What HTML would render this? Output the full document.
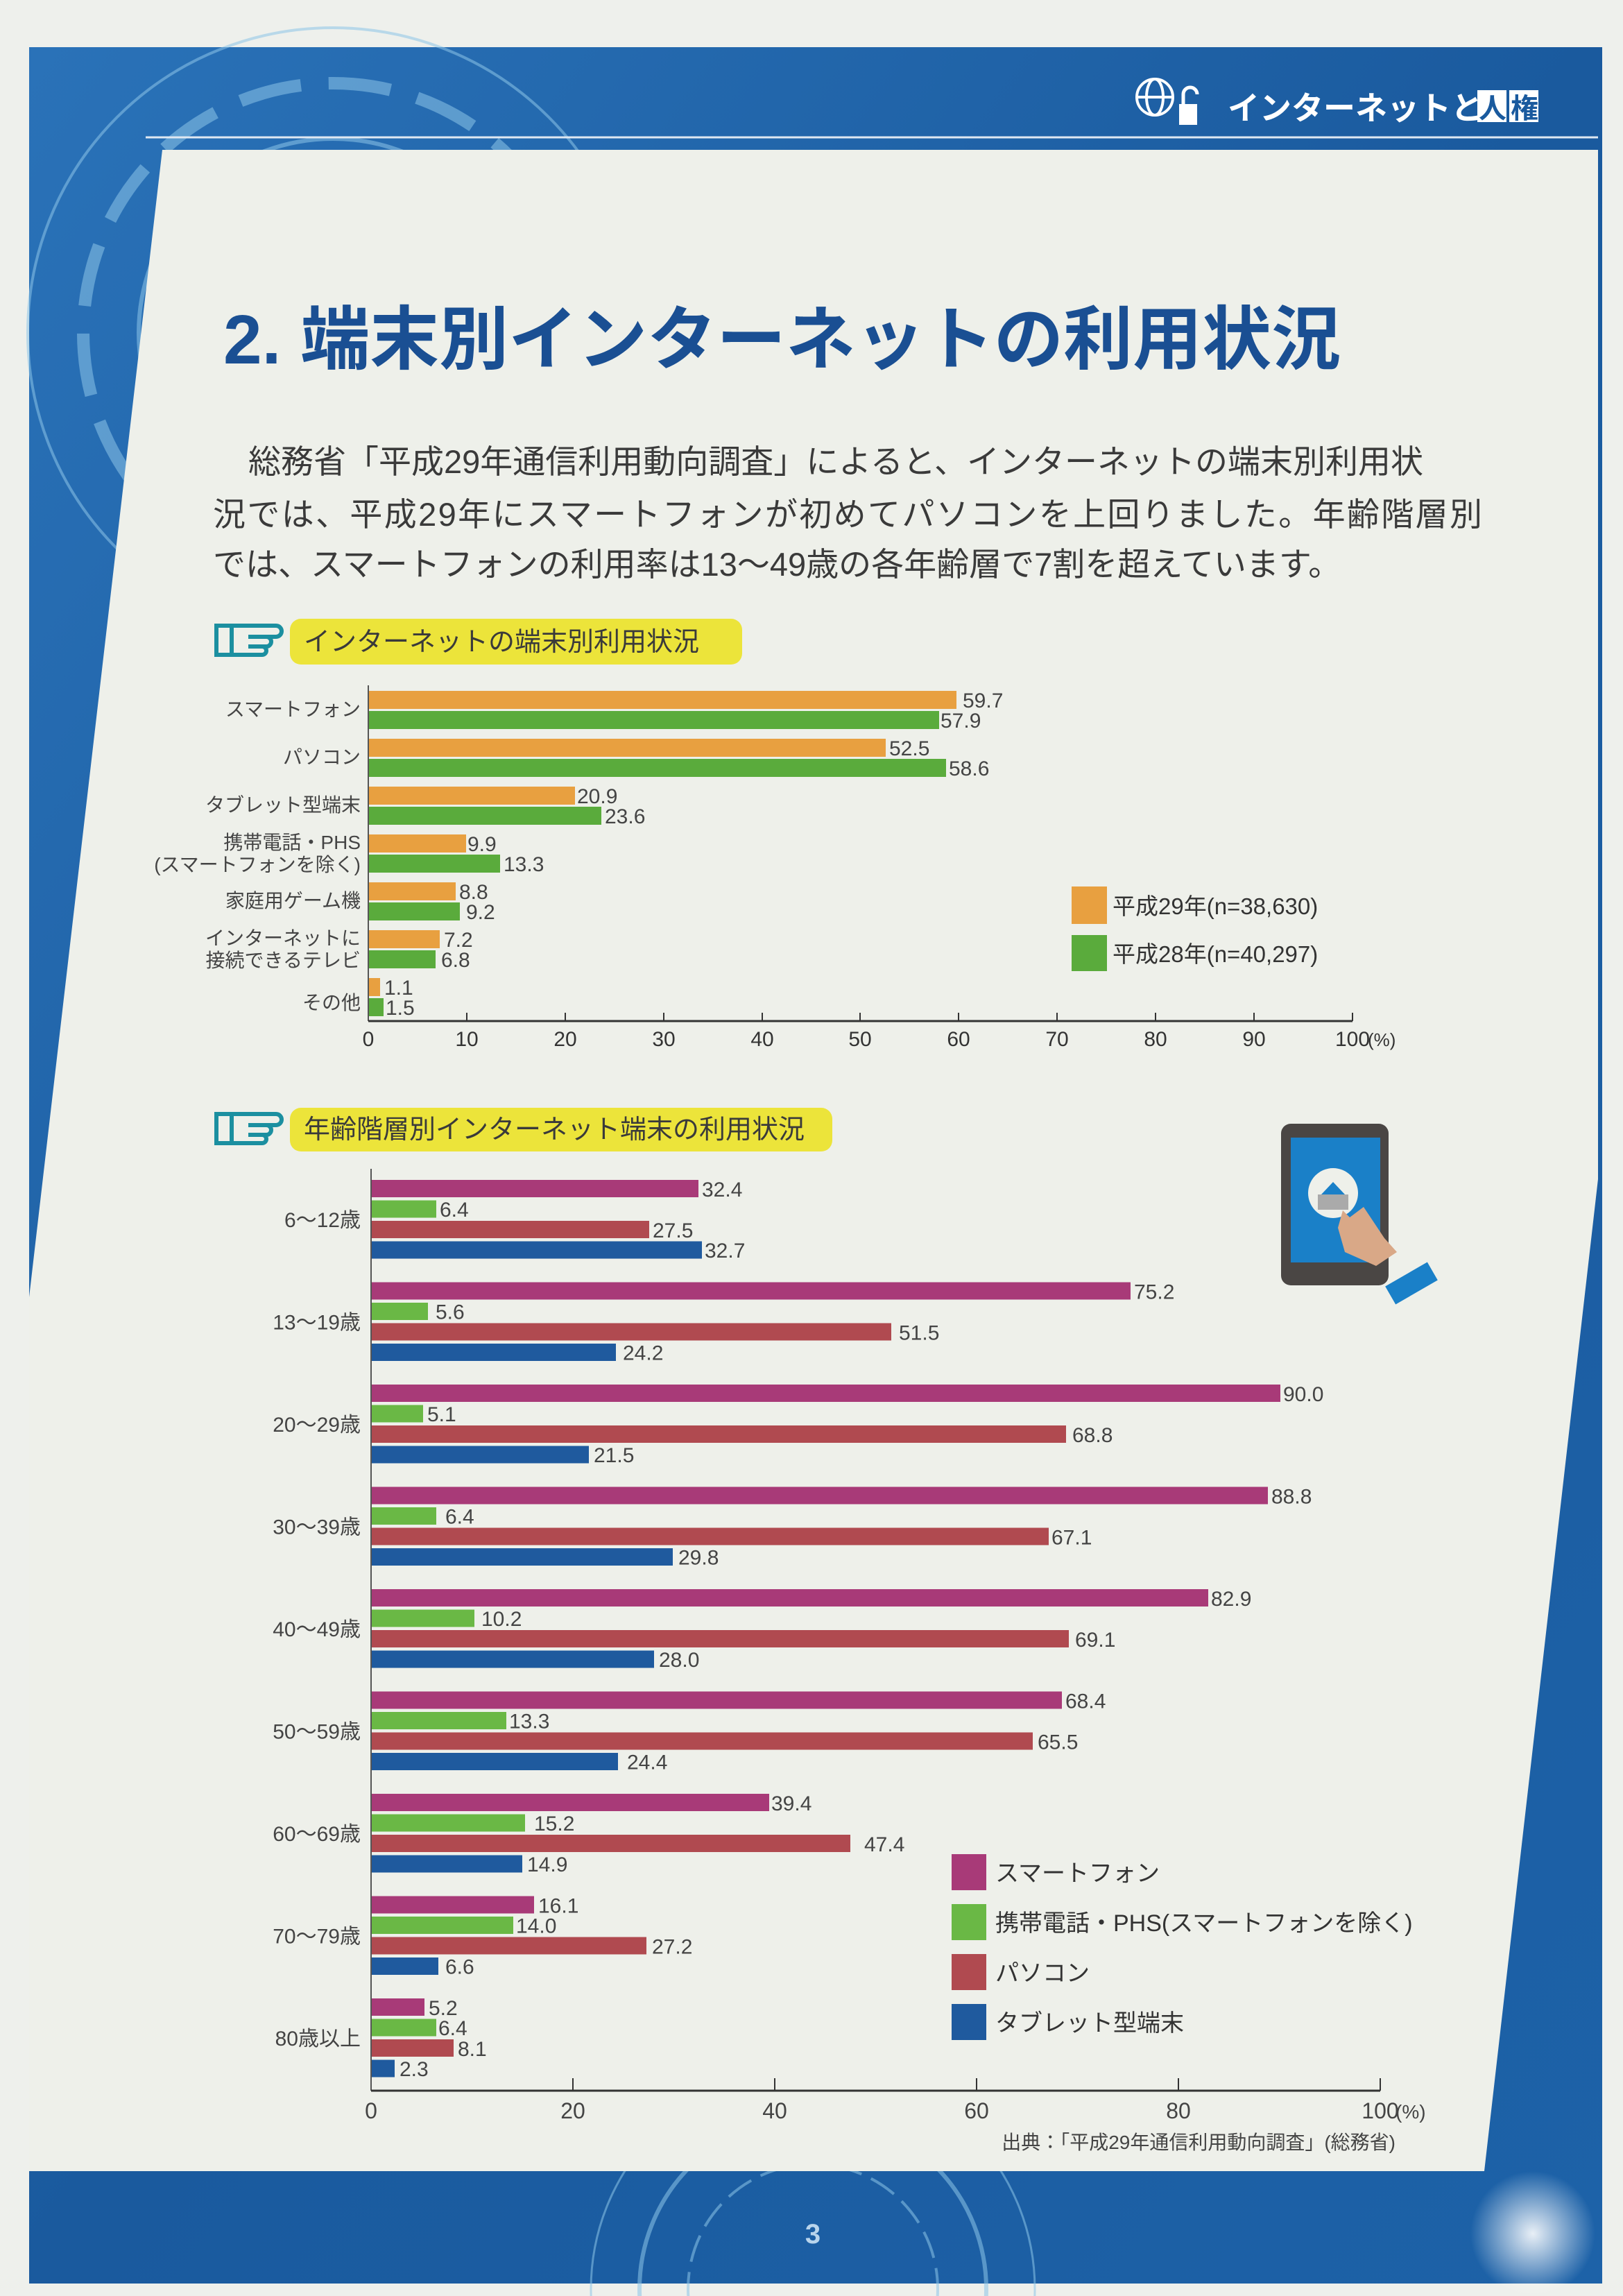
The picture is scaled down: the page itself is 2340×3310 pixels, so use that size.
<!DOCTYPE html>
<html><head><meta charset="utf-8"><style>
html,body{margin:0;padding:0;background:#eef0ec;width:2340px;height:3310px;overflow:hidden;}
svg{display:block;position:absolute;left:0;top:0;}
text{font-family:"Liberation Sans","Noto Sans CJK JP",sans-serif;}
</style></head><body>
<svg width="2340" height="3310" viewBox="0 0 2340 3310" xmlns="http://www.w3.org/2000/svg">
<defs>
<linearGradient id="bg" x1="0" y1="0" x2="1" y2="1">
<stop offset="0" stop-color="#2a72b8"/><stop offset="0.5" stop-color="#1a5a9e"/><stop offset="1" stop-color="#1d62a8"/>
</linearGradient>
<radialGradient id="glow" cx="0.5" cy="0.5" r="0.5"><stop offset="0" stop-color="#ffffff" stop-opacity="0.9"/><stop offset="1" stop-color="#ffffff" stop-opacity="0"/></radialGradient>
</defs>
<rect width="2340" height="3310" fill="#eef0ec"/>
<rect x="42" y="68" width="2268" height="3224" fill="url(#bg)"/>
<g fill="none" stroke="#8cc4e8" stroke-opacity="0.55">
<circle cx="480" cy="480" r="200" stroke-width="14" stroke-dasharray="60 20"/>
<circle cx="480" cy="480" r="280" stroke-width="6"/>
<circle cx="480" cy="480" r="360" stroke-width="18" stroke-dasharray="90 40"/>
<circle cx="480" cy="480" r="440" stroke-width="4"/>
<circle cx="1172" cy="3300" r="250" stroke-width="6"/>
<circle cx="1172" cy="3300" r="180" stroke-width="4" stroke-dasharray="40 15"/>
<circle cx="1172" cy="3300" r="320" stroke-width="3"/>
</g>
<circle cx="2210" cy="3220" r="90" fill="url(#glow)"/>
<polygon points="234,216 2304,216 2304,1700 2140,3130 42,3130 42,1870" fill="#eef0ea"/>
<line x1="210" y1="198" x2="2304" y2="198" stroke="#dfe8f2" stroke-width="3"/>
<g fill="none" stroke="#fff" stroke-width="4"><circle cx="1665" cy="140" r="26"/><ellipse cx="1665" cy="140" rx="12" ry="26"/><line x1="1639" y1="140" x2="1691" y2="140"/></g>
<rect x="1700" y="150" width="26" height="30" fill="#fff"/><path d="M1706 150 v-14 a10 10 0 0 1 20 0" fill="none" stroke="#fff" stroke-width="5"/>
<text x="1770" y="172" font-size="46" font-weight="bold" fill="#fff">インターネットと</text>
<rect x="2130" y="130" width="42" height="46" fill="#fff"/><text x="2132" y="170" font-size="40" font-weight="bold" fill="#1a5a9e">人</text>
<rect x="2176" y="130" width="42" height="46" fill="#fff"/><text x="2178" y="170" font-size="40" font-weight="bold" fill="#1a5a9e">権</text>
<text x="322" y="524" font-size="100" font-weight="bold" fill="#1a4f93">2. 端末別インターネットの利用状況</text>
<g font-size="47" fill="#3a3a3a">
<text x="358" y="682">総務省「平成29年通信利用動向調査」によると、インターネットの端末別利用状</text>
<text x="307" y="758" textLength="1830">況では、平成29年にスマートフォンが初めてパソコンを上回りました。年齢階層別</text>
<text x="307" y="830">では、スマートフォンの利用率は13～49歳の各年齢層で7割を超えています。</text>
</g>
<g fill="none" stroke="#1b8fa0" stroke-width="6"><rect x="312" y="902" width="22" height="42"/><path d="M334 902 h64 a8 8 0 0 1 0 16 h-40 M358 918 h26 a7 7 0 0 1 0 14 h-26 M358 932 h20 a6 6 0 0 1 0 12 h-44"/></g>
<rect x="418" y="892" width="652" height="66" rx="16" fill="#ece43a"/>
<text x="438" y="938" font-size="38" fill="#3a3a3a">インターネットの端末別利用状況</text>
<g font-size="28" fill="#333">
<line x1="531" y1="988" x2="531" y2="1472" stroke="#555" stroke-width="2"/>
<line x1="531" y1="1472" x2="1950" y2="1472" stroke="#333" stroke-width="3"/>
<g stroke="#333" stroke-width="2">
<line x1="673" y1="1460" x2="673" y2="1472"/><line x1="815" y1="1460" x2="815" y2="1472"/><line x1="957" y1="1460" x2="957" y2="1472"/><line x1="1099" y1="1460" x2="1099" y2="1472"/><line x1="1240" y1="1460" x2="1240" y2="1472"/><line x1="1382" y1="1460" x2="1382" y2="1472"/><line x1="1524" y1="1460" x2="1524" y2="1472"/><line x1="1666" y1="1460" x2="1666" y2="1472"/><line x1="1808" y1="1460" x2="1808" y2="1472"/><line x1="1950" y1="1460" x2="1950" y2="1472"/></g>
<g text-anchor="middle" font-size="30"><text x="531" y="1508">0</text><text x="673" y="1508">10</text><text x="815" y="1508">20</text><text x="957" y="1508">30</text><text x="1099" y="1508">40</text><text x="1240" y="1508">50</text><text x="1382" y="1508">60</text><text x="1524" y="1508">70</text><text x="1666" y="1508">80</text><text x="1808" y="1508">90</text><text x="1950" y="1508">100</text></g>
<text x="1972" y="1508" font-size="26">(%)</text>
<g fill="#e8a040">
<rect x="532" y="996" width="847" height="26"/><rect x="532" y="1065" width="745" height="26"/><rect x="532" y="1134" width="297" height="26"/><rect x="532" y="1203" width="140" height="26"/><rect x="532" y="1272" width="125" height="26"/><rect x="532" y="1341" width="102" height="26"/><rect x="532" y="1410" width="16" height="26"/></g>
<g fill="#5aab3c">
<rect x="532" y="1025" width="822" height="26"/><rect x="532" y="1094" width="832" height="26"/><rect x="532" y="1163" width="335" height="26"/><rect x="532" y="1232" width="189" height="26"/><rect x="532" y="1301" width="131" height="26"/><rect x="532" y="1370" width="96" height="26"/><rect x="532" y="1439" width="21" height="26"/></g>
<g font-size="30" fill="#444">
<text x="1388" y="1020">59.7</text><text x="1356" y="1049">57.9</text>
<text x="1282" y="1089">52.5</text><text x="1368" y="1118">58.6</text>
<text x="832" y="1158">20.9</text><text x="872" y="1187">23.6</text>
<text x="674" y="1227">9.9</text><text x="726" y="1256">13.3</text>
<text x="662" y="1296">8.8</text><text x="672" y="1325">9.2</text>
<text x="640" y="1365">7.2</text><text x="636" y="1394">6.8</text>
<text x="554" y="1434">1.1</text><text x="556" y="1463">1.5</text></g>
<g text-anchor="end" font-size="28" fill="#444">
<text x="520" y="1032">スマートフォン</text>
<text x="520" y="1101">パソコン</text>
<text x="520" y="1170">タブレット型端末</text>
<text x="520" y="1224">携帯電話・PHS</text><text x="520" y="1256">(スマートフォンを除く)</text>
<text x="520" y="1308">家庭用ゲーム機</text>
<text x="520" y="1362">インターネットに</text><text x="520" y="1394">接続できるテレビ</text>
<text x="520" y="1455">その他</text></g>
<rect x="1545" y="1278" width="51" height="54" fill="#e8a040"/>
<rect x="1545" y="1348" width="51" height="52" fill="#5aab3c"/>
<text x="1604" y="1318" font-size="33">平成29年(n=38,630)</text>
<text x="1604" y="1387" font-size="33">平成28年(n=40,297)</text>
</g>
<g fill="none" stroke="#1b8fa0" stroke-width="6"><rect x="312" y="1606" width="22" height="42"/><path d="M334 1606 h64 a8 8 0 0 1 0 16 h-40 M358 1622 h26 a7 7 0 0 1 0 14 h-26 M358 1636 h20 a6 6 0 0 1 0 12 h-44"/></g>
<rect x="418" y="1597" width="782" height="63" rx="16" fill="#ece43a"/>
<text x="438" y="1641" font-size="38" fill="#3a3a3a">年齢階層別インターネット端末の利用状況</text>
<rect x="1847" y="1620" width="155" height="233" rx="14" fill="#4a4644"/>
<rect x="1861" y="1640" width="129" height="180" fill="#1a80c8"/>
<circle cx="1922" cy="1720" r="36" fill="#eef0ea"/>
<path d="M1905 1722 l17 -18 l17 18 l-17 16z" fill="#1a80c8"/>
<path d="M1900 1722 h44 v22 h-44z" fill="#aaa"/>
<path d="M1936 1745 l10 10 l20 -15 l30 45 l18 20 l-30 20 l-45 -20 l-10 -35z" fill="#d9a887"/>
<rect x="2000" y="1835" width="70" height="30" fill="#1a80c8" transform="rotate(-30 2035 1850)"/>
<g>
<line x1="535" y1="1685" x2="535" y2="3014" stroke="#555" stroke-width="2"/>
<line x1="535" y1="3014" x2="1990" y2="3014" stroke="#333" stroke-width="3"/>
<g stroke="#333" stroke-width="2"><line x1="826" y1="2996" x2="826" y2="3014"/><line x1="1117" y1="2996" x2="1117" y2="3014"/><line x1="1408" y1="2996" x2="1408" y2="3014"/><line x1="1699" y1="2996" x2="1699" y2="3014"/><line x1="1990" y1="2996" x2="1990" y2="3014"/></g>
<g text-anchor="middle" font-size="32" fill="#444"><text x="535" y="3054">0</text><text x="826" y="3054">20</text><text x="1117" y="3054">40</text><text x="1408" y="3054">60</text><text x="1699" y="3054">80</text><text x="1990" y="3054">100</text></g>
<text x="2012" y="3054" font-size="28" fill="#444">(%)</text>
<text x="2012" y="3098" text-anchor="end" font-size="28" fill="#444">出典：「平成29年通信利用動向調査」(総務省)</text>
</g>
<g font-size="30" fill="#444">
<g transform="translate(0,1701)">
<rect x="536" y="0" width="471" height="25" fill="#a83a78"/><rect x="536" y="29.5" width="93" height="25" fill="#6ab845"/><rect x="536" y="59" width="400" height="25" fill="#b04a50"/><rect x="536" y="88.5" width="476" height="25" fill="#1f5a9e"/>
<text x="1012" y="24">32.4</text><text x="634" y="53">6.4</text><text x="941" y="83">27.5</text><text x="1016" y="112">32.7</text>
<text x="520" y="68" text-anchor="end">6～12歳</text></g>
<g transform="translate(0,1848.5)">
<rect x="536" y="0" width="1094" height="25" fill="#a83a78"/><rect x="536" y="29.5" width="81" height="25" fill="#6ab845"/><rect x="536" y="59" width="749" height="25" fill="#b04a50"/><rect x="536" y="88.5" width="352" height="25" fill="#1f5a9e"/>
<text x="1635" y="24">75.2</text><text x="628" y="53">5.6</text><text x="1296" y="83">51.5</text><text x="898" y="112">24.2</text>
<text x="520" y="68" text-anchor="end">13～19歳</text></g>
<g transform="translate(0,1996)">
<rect x="536" y="0" width="1310" height="25" fill="#a83a78"/><rect x="536" y="29.5" width="74" height="25" fill="#6ab845"/><rect x="536" y="59" width="1001" height="25" fill="#b04a50"/><rect x="536" y="88.5" width="313" height="25" fill="#1f5a9e"/>
<text x="1850" y="24">90.0</text><text x="616" y="53">5.1</text><text x="1546" y="83">68.8</text><text x="856" y="112">21.5</text>
<text x="520" y="68" text-anchor="end">20～29歳</text></g>
<g transform="translate(0,2143.5)">
<rect x="536" y="0" width="1292" height="25" fill="#a83a78"/><rect x="536" y="29.5" width="93" height="25" fill="#6ab845"/><rect x="536" y="59" width="976" height="25" fill="#b04a50"/><rect x="536" y="88.5" width="434" height="25" fill="#1f5a9e"/>
<text x="1833" y="24">88.8</text><text x="642" y="53">6.4</text><text x="1516" y="83">67.1</text><text x="978" y="112">29.8</text>
<text x="520" y="68" text-anchor="end">30～39歳</text></g>
<g transform="translate(0,2291)">
<rect x="536" y="0" width="1206" height="25" fill="#a83a78"/><rect x="536" y="29.5" width="148" height="25" fill="#6ab845"/><rect x="536" y="59" width="1005" height="25" fill="#b04a50"/><rect x="536" y="88.5" width="407" height="25" fill="#1f5a9e"/>
<text x="1746" y="24">82.9</text><text x="694" y="53">10.2</text><text x="1550" y="83">69.1</text><text x="950" y="112">28.0</text>
<text x="520" y="68" text-anchor="end">40～49歳</text></g>
<g transform="translate(0,2438.5)">
<rect x="536" y="0" width="995" height="25" fill="#a83a78"/><rect x="536" y="29.5" width="194" height="25" fill="#6ab845"/><rect x="536" y="59" width="953" height="25" fill="#b04a50"/><rect x="536" y="88.5" width="355" height="25" fill="#1f5a9e"/>
<text x="1536" y="24">68.4</text><text x="734" y="53">13.3</text><text x="1496" y="83">65.5</text><text x="904" y="112">24.4</text>
<text x="520" y="68" text-anchor="end">50～59歳</text></g>
<g transform="translate(0,2586)">
<rect x="536" y="0" width="573" height="25" fill="#a83a78"/><rect x="536" y="29.5" width="221" height="25" fill="#6ab845"/><rect x="536" y="59" width="690" height="25" fill="#b04a50"/><rect x="536" y="88.5" width="217" height="25" fill="#1f5a9e"/>
<text x="1112" y="24">39.4</text><text x="770" y="53">15.2</text><text x="1246" y="83">47.4</text><text x="760" y="112">14.9</text>
<text x="520" y="68" text-anchor="end">60～69歳</text></g>
<g transform="translate(0,2733.5)">
<rect x="536" y="0" width="234" height="25" fill="#a83a78"/><rect x="536" y="29.5" width="204" height="25" fill="#6ab845"/><rect x="536" y="59" width="396" height="25" fill="#b04a50"/><rect x="536" y="88.5" width="96" height="25" fill="#1f5a9e"/>
<text x="776" y="24">16.1</text><text x="744" y="53">14.0</text><text x="940" y="83">27.2</text><text x="642" y="112">6.6</text>
<text x="520" y="68" text-anchor="end">70～79歳</text></g>
<g transform="translate(0,2881)">
<rect x="536" y="0" width="76" height="25" fill="#a83a78"/><rect x="536" y="29.5" width="93" height="25" fill="#6ab845"/><rect x="536" y="59" width="118" height="25" fill="#b04a50"/><rect x="536" y="88.5" width="33" height="25" fill="#1f5a9e"/>
<text x="618" y="24">5.2</text><text x="632" y="53">6.4</text><text x="660" y="83">8.1</text><text x="576" y="112">2.3</text>
<text x="520" y="68" text-anchor="end">80歳以上</text></g>
</g>
<g font-size="34" fill="#333">
<rect x="1372" y="2673" width="50" height="52" fill="#a83a78"/><text x="1435" y="2712">スマートフォン</text>
<rect x="1372" y="2745" width="50" height="52" fill="#6ab845"/><text x="1435" y="2784">携帯電話・PHS(スマートフォンを除く)</text>
<rect x="1372" y="2817" width="50" height="52" fill="#b04a50"/><text x="1435" y="2856">パソコン</text>
<rect x="1372" y="2889" width="50" height="52" fill="#1f5a9e"/><text x="1435" y="2928">タブレット型端末</text>
</g>
<text x="1172" y="3234" text-anchor="middle" font-size="40" font-weight="bold" fill="#b8d4ec">3</text>
</svg>
</body></html>
